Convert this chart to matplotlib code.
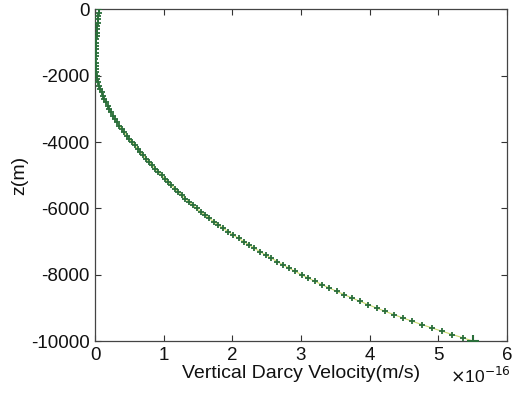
import numpy as np
import matplotlib
matplotlib.use("Agg")
import matplotlib.pyplot as plt
from matplotlib.ticker import FixedLocator

plt.rcParams['font.family'] = ['Liberation Sans', 'DejaVu Sans']

# depth below surface (m), every 100 m
depth = np.arange(0, 10001, 100)

# vertical Darcy velocity in units of 1e-16 m/s
velocity = [
    0.055, 0.051, 0.047, 0.043, 0.039, 0.035, 0.032, 0.028, 0.025, 0.021,
    0.018, 0.015, 0.012, 0.010, 0.008, 0.007, 0.008, 0.010, 0.013, 0.018,
    0.025, 0.034, 0.045, 0.058, 0.075, 0.095, 0.115, 0.137, 0.160, 0.185,
    0.210, 0.236, 0.264, 0.293, 0.324, 0.356, 0.390, 0.425, 0.462, 0.500,
    0.540, 0.580, 0.621, 0.662, 0.704, 0.747, 0.790, 0.834, 0.879, 0.924,
    0.970, 1.017, 1.065, 1.114, 1.164, 1.214, 1.265, 1.317, 1.370, 1.424,
    1.479, 1.539, 1.601, 1.665, 1.731, 1.799, 1.869, 1.941, 2.015, 2.091,
    2.169, 2.245, 2.323, 2.403, 2.485, 2.569, 2.654, 2.741, 2.829, 2.919,
    3.011, 3.108, 3.208, 3.310, 3.415, 3.523, 3.633, 3.746, 3.862, 3.980,
    4.101, 4.225, 4.353, 4.485, 4.621, 4.761, 4.905, 5.053, 5.205, 5.361,
    5.510,
]

x_ticks = [0, 1, 2, 3, 4, 5, 6]
y_ticks = [0, -2000, -4000, -6000, -8000, -10000]

z = -depth
v = np.array(velocity)

fig = plt.figure(figsize=(5.22, 4.12), dpi=100)
ax = fig.add_axes([0.182, 0.172, 0.789, 0.805])

ax.plot(v, z, color='#c8d86a', lw=0.8, zorder=2)
ax.plot(v, z, linestyle='none', marker='+', color='#2a6e3a',
        markersize=5, markeredgewidth=1.3, zorder=3)
ax.plot(v[-1:], z[-1:], linestyle='none', marker='+', color='#2a6e3a',
        markersize=8, markeredgewidth=1.5, zorder=4)

ax.set_xlim(0, 6)
ax.set_ylim(-10000, 0)
ax.xaxis.set_major_locator(FixedLocator(x_ticks))
ax.yaxis.set_major_locator(FixedLocator(y_ticks))
ax.set_xticklabels([str(t) for t in x_ticks])
ax.set_yticklabels([str(t) for t in y_ticks])

ax.tick_params(direction='in', length=4, width=0.8, top=True, right=True,
               labelsize=13.5, colors='#333333', labelcolor='#111111', pad=4)
for s in ax.spines.values():
    s.set_linewidth(0.9)
    s.set_color('#444444')

ax.set_xlabel('Vertical Darcy Velocity(m/s)', fontsize=14, labelpad=1,
              color='#111111')
ax.set_ylabel('z(m)', fontsize=14, labelpad=2, color='#111111')

fig.text(0.862, 0.088, r'$\times$10$^{-16}$', fontsize=12.5,
         ha='left', va='center', color='#111111')

fig.savefig('out.png', dpi=100, facecolor='white')
